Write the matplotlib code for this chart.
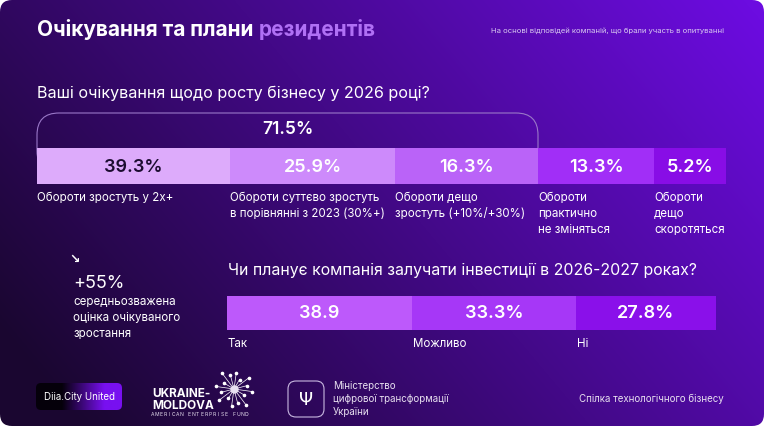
import numpy as np
import matplotlib
matplotlib.use("Agg")
import matplotlib.pyplot as plt
from matplotlib.patches import FancyBboxPatch

plt.rcParams['font.family'] = ['Inter', 'DejaVu Sans']

W, H = 764, 426

# ---------------- data ----------------
TITLE_A = "Очікування та плани "
TITLE_B = "резидентів"
NOTE = "На основі відповідей компаній, що брали участь в опитуванні"

Q1 = "Ваші очікування щодо росту бізнесу у 2026 році?"
GROWTH_VALUES = [39.3, 25.9, 16.3, 13.3, 5.2]
GROWTH_LABELS = ["Обороти зростуть у 2х+",
                 "Обороти суттєво зростуть\nв порівнянні з 2023 (30%+)",
                 "Обороти дещо\nзростуть (+10%/+30%)",
                 "Обороти\nпрактично\nне зміняться",
                 "Обороти\nдещо\nскоротяться"]
GROWTH_TOTAL = 71.5

AVG_GROWTH = "+55%"
AVG_TEXT = "середньозважена\nоцінка очікуваного\nзростання"

Q2 = "Чи планує компанія залучати інвестиції в 2026-2027 роках?"
INVEST_VALUES = [38.9, 33.3, 27.8]
INVEST_TEXT = ["38.9", "33.3%", "27.8%"]
INVEST_LABELS = ["Так", "Можливо", "Ні"]

MINISTRY = ["Міністерство", "цифрової трансформації", "України"]
FUND = "AMERICAN ENTERPRISE FUND"

# ---------------- layout / style ----------------
G_WIDTHS = [193, 165, 143, 116, 72]          # segment widths in px (not proportional)
G_COLORS = ["#ddabfb", "#cd8afb", "#ba63f8", "#a12ef7", "#880de6"]
G_TXT = ["#1c0c30", "white", "white", "white", "white"]
I_WIDTHS = [185, 164, 140]
I_COLORS = ["#bd59fb", "#a637f7", "#8a10ea"]

fig = plt.figure(figsize=(W / 100, H / 100), dpi=100, facecolor="white")
ax = fig.add_axes([0, 0, 1, 1])
ax.set_xlim(0, W)
ax.set_ylim(H, 0)
ax.axis("off")

# background gradient card
yy, xx = np.mgrid[0:H, 0:W]
t = np.clip(0.75 * xx / W + 0.35 * (1 - yy / H) - 0.08, 0, 1)[..., None]
c0 = np.array([0x1a, 0x06, 0x30]) / 255
c1 = np.array([0x6c, 0x0c, 0xe0]) / 255
bg = c0 * (1 - t) + c1 * t
card = FancyBboxPatch((0, 0), W, H, boxstyle="round,pad=0,rounding_size=12",
                      transform=ax.transData, facecolor="none", edgecolor="none")
ax.add_patch(card)
im = ax.imshow(bg, extent=(0, W, H, 0), aspect="auto", zorder=0)
im.set_clip_path(card)

# title
ttl = ax.text(37, 30, TITLE_A, color="white", fontsize=15, fontweight="bold", va="center")
fig.canvas.draw()
bb = ax.transData.inverted().transform(ttl.get_window_extent())
ax.text(bb[1, 0], 30, TITLE_B, color="#b070f5", fontsize=15, fontweight="bold",
        va="center")
ax.text(724, 31, NOTE, color="#d8c8f0", fontsize=5.5, ha="right", va="center")

# question 1
ax.text(37, 93, Q1, color="white", fontsize=11.6, va="center")

# bracket over first segments
brk = FancyBboxPatch((37, 113), 538 - 37, 60, boxstyle="round,pad=0,rounding_size=22",
                     facecolor="none", edgecolor="#9a78c8", linewidth=0.8, zorder=1)
ax.add_patch(brk)
ax.text(288, 130, f"{GROWTH_TOTAL}%", color="white", fontsize=12.5, ha="center",
        va="center", fontweight=600)

lefts = np.concatenate([[37], 37 + np.cumsum(G_WIDTHS)[:-1]])
ax.barh(166, G_WIDTHS, left=lefts, height=36, color=G_COLORS, zorder=3)
for x0, w, v, tc, lab in zip(lefts, G_WIDTHS, GROWTH_VALUES, G_TXT, GROWTH_LABELS):
    ax.text(x0 + w / 2, 167, f"{v}%", color=tc, fontsize=13, ha="center", va="center",
            fontweight=600, zorder=4)
    ax.text(x0, 192, lab, color="white", fontsize=8.3, ha="left", va="top",
            linespacing=1.42, zorder=4)

# average growth
ax.text(75, 259, "\u2198", color="white", fontsize=9, ha="center", va="center",
        family="DejaVu Sans", fontweight="bold")
ax.text(73, 284, AVG_GROWTH, color="white", fontsize=13, va="center")
ax.text(73, 296, AVG_TEXT, color="white", fontsize=8.3, va="top", linespacing=1.42)

# question 2
ax.text(228, 270, Q2, color="white", fontsize=11.4, va="center")
lefts2 = np.concatenate([[227], 227 + np.cumsum(I_WIDTHS)[:-1]])
ax.barh(313, I_WIDTHS, left=lefts2, height=34, color=I_COLORS, zorder=3)
for x0, w, s, lab in zip(lefts2, I_WIDTHS, INVEST_TEXT, INVEST_LABELS):
    ax.text(x0 + w / 2, 314, s, color="white", fontsize=13, ha="center", va="center",
            fontweight=600, zorder=4)
    ax.text(x0 + 1, 344, lab, color="white", fontsize=8.3, ha="left", va="center")

# ---------------- footer logos ----------------
dia = FancyBboxPatch((36, 383), 86, 27, boxstyle="round,pad=0,rounding_size=5",
                     facecolor="none", edgecolor="none")
ax.add_patch(dia)
gx = np.linspace(0, 1, 100)
gx = np.clip((gx - 0.3) / 0.5, 0, 1)[None, :, None]
dgrad = np.array([0.02, 0.0, 0.04]) * (1 - gx) + np.array([0x78, 0x10, 0xf0]) / 255 * gx
dim = ax.imshow(np.repeat(dgrad, 2, axis=0), extent=(36, 122, 410, 383), aspect="auto",
                zorder=2)
dim.set_clip_path(dia)
ax.text(79, 397, "Diia.City United", color="white", fontsize=7, ha="center", va="center",
        zorder=3)

ax.text(152, 394, "UKRAINE-", color="white", fontsize=8.5, fontweight="bold", va="center")
ax.text(152, 406, "MOLDOVA", color="white", fontsize=8.5, fontweight="bold", va="center")
for k, ch in enumerate(FUND):
    ax.text(153 + k * 4.05, 414.5, ch, color="#e8e0f0", fontsize=3.6, ha="center",
            va="center")
cx, cy = 234, 389
angles = np.deg2rad(np.arange(0, 360, 22.5) + 8)
lens = [18, 12, 20, 14, 17, 11, 19, 13, 18, 12, 20, 14, 16, 11, 19, 13]
for a, r in zip(angles, lens):
    ax.plot([cx, cx + r * np.cos(a)], [cy, cy + r * np.sin(a)], color="white", lw=0.5)
    ax.plot(cx + r * np.cos(a), cy + r * np.sin(a), "o", color="white", ms=1.6)
ax.plot(cx, cy, "o", color="#e8e0f0", ms=5)

tri = FancyBboxPatch((288, 381), 36, 36, boxstyle="round,pad=0,rounding_size=8",
                     facecolor="none", edgecolor="#c8b8e0", linewidth=0.8)
ax.add_patch(tri)
ax.text(306, 400, "\u03a8", color="white", fontsize=13, ha="center", va="center",
        family="DejaVu Sans")
for k, line in enumerate(MINISTRY):
    ax.text(333, 386 + 13 * k, line, color="#e8e0f0", fontsize=7, va="center")
ax.text(724, 399, "Спілка технологічного бізнесу", color="#e8e0f0", fontsize=7,
        ha="right", va="center")

fig.savefig("out.png", dpi=100, facecolor="white")
